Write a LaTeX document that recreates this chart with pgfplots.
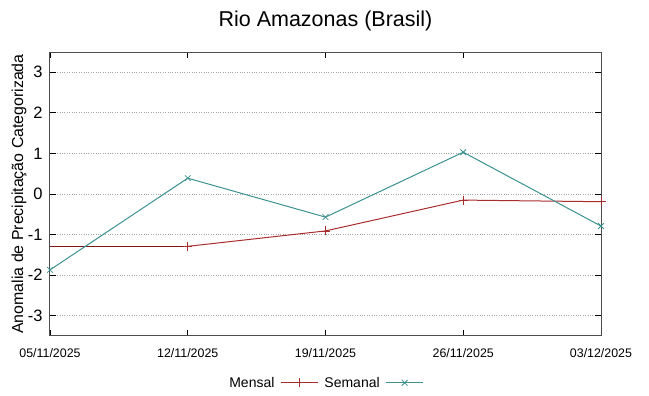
\documentclass[border=0pt]{standalone}
\usepackage{fontspec}
\setmainfont{Liberation Sans}
\usepackage{pgfplots}
\pgfplotsset{compat=1.18}
\definecolor{mensal}{RGB}{170,45,45}
\definecolor{mensaldark}{RGB}{130,20,20}
\definecolor{semanal}{RGB}{60,145,145}
\begin{document}
\begin{tikzpicture}[x=1pt,y=1pt]
\path (-50pt,-60pt) rectangle (599pt,336pt);
\begin{axis}[
  at={(0pt,0pt)}, anchor=south west,
  scale only axis, width=551pt, height=284pt,
  xmin=0, xmax=28, ymin=-3.5, ymax=3.5,
  xtick={0,7,14,21,28},
  xticklabels={05/11/2025,12/11/2025,19/11/2025,26/11/2025,03/12/2025},
  ytick={-3,-2,-1,0,1,2,3},
  /pgf/number format/assume math mode=true,
  tick align=inside,
  major tick length=6pt,
  tick style={black, line width=0.8pt},
  axis line style={black!70, line width=1pt},
  ymajorgrids,
  grid style={gray!70, dotted, line width=0.8pt},
  xticklabel style={font=\fontsize{12.4}{14}\selectfont, yshift=-9pt},
  yticklabel style={font=\fontsize{16.5}{18}\selectfont, xshift=-4pt},
  ylabel={Anomalia de Precipitação Categorizada},
  ylabel style={font=\fontsize{15.9}{18}\selectfont, at={(-31pt,0.5)}, anchor=center, inner sep=0pt},
  title={Rio Amazonas (Brasil)},
  title style={font=\fontsize{21.5}{24}\selectfont, at={(0.5,1)}, anchor=south, yshift=12pt},
  legend columns=2,
  legend style={draw=none, fill=none, at={(0.5,-0.165)}, anchor=center,
    font=\fontsize{14}{16}\selectfont, column sep=4pt},
  legend cell align=right,
  legend plot pos=right,
  legend image code/.code={
    \draw[#1, mark=none] (0pt,0pt) -- (37pt,0pt);
    \path[#1, draw=none] plot coordinates {(18.5pt,0pt)};
  },
]
\addplot[mensaldark, line width=0.8pt, forget plot] coordinates {(0,-1.29) (7,-1.29)};
\addplot[mensal, line width=1pt, mark=+, mark size=4.5pt, mark options={line width=0.8pt}]
  coordinates {(7,-1.29) (14,-0.91) (21,-0.15) (28,-0.19)};
\addlegendentry{Mensal}
\addplot[semanal, line width=1pt, mark=x, mark size=4pt, mark options={line width=0.8pt}]
  coordinates {(0,-1.87) (7,0.39) (14,-0.57) (21,1.03) (28,-0.79)};
\addlegendentry{Semanal}
\end{axis}
\end{tikzpicture}
\end{document}
